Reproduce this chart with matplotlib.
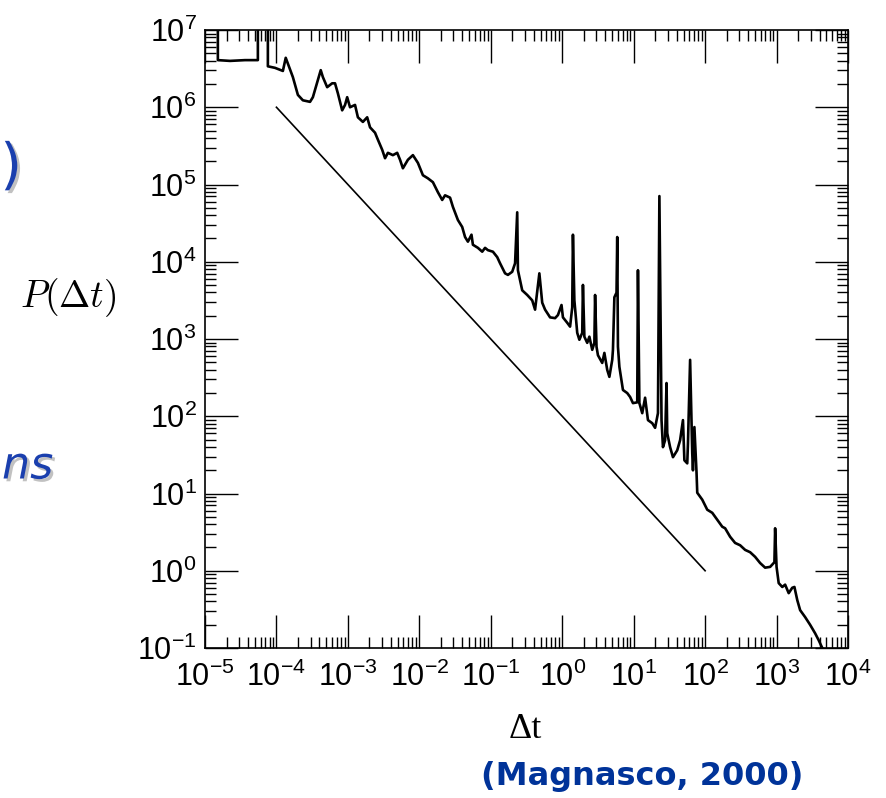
import numpy as np
import matplotlib
matplotlib.use('Agg')
import matplotlib.pyplot as plt
from matplotlib.ticker import LogLocator, FuncFormatter, NullFormatter
import matplotlib.patheffects as pe

# traced curve, log10 values
log_dt = [-4.82, -4.82, -4.65, -4.44, -4.26, -4.26, -4.12, -4.12, -4.02, -3.91,
          -3.87, -3.77, -3.70, -3.63, -3.53, -3.49, -3.42, -3.38, -3.35, -3.29,
          -3.22, -3.18, -3.14, -3.08, -3.04, -3.01, -2.97, -2.90, -2.86, -2.79,
          -2.73, -2.69, -2.62, -2.58, -2.52, -2.48, -2.44, -2.37, -2.31, -2.27,
          -2.23, -2.16, -2.09, -2.02, -1.95, -1.88, -1.81, -1.74, -1.68, -1.64,
          -1.57, -1.53, -1.46, -1.40, -1.36, -1.32, -1.27, -1.25, -1.18, -1.12,
          -1.08, -1.04, -0.97, -0.91, -0.87, -0.80, -0.76, -0.70, -0.66, -0.63,
          -0.62, -0.56, -0.49, -0.42, -0.38, -0.32, -0.28, -0.24, -0.17, -0.10,
          -0.06, -0.01, 0.01, 0.07, 0.11, 0.14, 0.15, 0.17, 0.21, 0.24,
          0.28, 0.29, 0.31, 0.35, 0.38, 0.42, 0.45, 0.46, 0.48, 0.50,
          0.56, 0.59, 0.63, 0.66, 0.70, 0.71, 0.73, 0.76, 0.77, 0.78,
          0.80, 0.85, 0.91, 0.95, 0.99, 1.05, 1.06, 1.08, 1.12, 1.16,
          1.20, 1.26, 1.30, 1.34, 1.36, 1.39, 1.41, 1.44, 1.46, 1.47,
          1.51, 1.55, 1.61, 1.65, 1.69, 1.71, 1.75, 1.76, 1.79, 1.82,
          1.83, 1.85, 1.88, 1.89, 1.96, 2.03, 2.10, 2.17, 2.24, 2.28,
          2.35, 2.42, 2.49, 2.56, 2.63, 2.70, 2.77, 2.84, 2.91, 2.97,
          2.98, 3.00, 3.03, 3.08, 3.12, 3.17, 3.22, 3.25, 3.29, 3.33,
          3.40, 3.47, 3.54, 3.59, 3.64, 3.70]
log_p = [7.20, 6.61, 6.60, 6.61, 6.61, 7.20, 7.20, 6.53, 6.51, 6.47,
         6.64, 6.39, 6.16, 6.09, 6.07, 6.13, 6.35, 6.48, 6.39, 6.26,
         6.31, 6.31, 6.18, 5.96, 6.03, 6.13, 6.00, 6.03, 5.87, 5.81,
         5.87, 5.74, 5.67, 5.58, 5.45, 5.34, 5.41, 5.38, 5.41, 5.32,
         5.21, 5.32, 5.38, 5.28, 5.12, 5.08, 5.03, 4.90, 4.80, 4.86,
         4.83, 4.71, 4.54, 4.45, 4.32, 4.26, 4.35, 4.22, 4.18, 4.13,
         4.18, 4.15, 4.13, 4.06, 3.98, 3.85, 3.83, 3.87, 3.98, 4.64,
         3.89, 3.63, 3.57, 3.50, 3.38, 3.85, 3.47, 3.38, 3.28, 3.27,
         3.31, 3.44, 3.28, 3.21, 3.16, 3.41, 4.35, 3.50, 3.08, 2.99,
         3.08, 3.70, 3.03, 2.95, 3.03, 2.86, 2.95, 3.57, 2.90, 2.79,
         2.69, 2.82, 2.60, 2.51, 2.73, 2.86, 3.54, 3.60, 4.32, 2.90,
         2.64, 2.34, 2.30, 2.25, 2.17, 2.18, 3.89, 2.17, 2.04, 2.24,
         1.95, 1.91, 1.85, 2.04, 4.85, 1.95, 1.60, 1.69, 2.43, 1.78,
         1.60, 1.47, 1.56, 1.69, 1.95, 1.43, 1.39, 1.65, 2.73, 1.52,
         1.30, 1.86, 1.27, 1.01, 0.92, 0.79, 0.75, 0.66, 0.57, 0.55,
         0.44, 0.36, 0.33, 0.27, 0.24, 0.18, 0.10, 0.04, 0.05, 0.11,
         0.55, 0.05, -0.16, -0.21, -0.18, -0.29, -0.22, -0.21, -0.38, -0.51,
         -0.60, -0.70, -0.81, -0.90, -1.00, -1.15]

# reference power law, slope -1
ref_dt = [1e-4, 1e2]
ref_p = [1e6, 1e0]

dt = 10 ** np.array(log_dt)
p = 10 ** np.array(log_p)

plt.rcParams['font.family'] = ['Liberation Sans', 'DejaVu Sans']

fig = plt.figure(figsize=(8.86, 7.98), dpi=100)
ax = fig.add_axes([205 / 886, 1 - 648 / 798, 643 / 886, 618 / 798])

ax.plot(dt, p, color='black', lw=1.9, solid_joinstyle='round')
ax.plot(ref_dt, ref_p, color='black', lw=1.2)

ax.set_xscale('log')
ax.set_yscale('log')
ax.set_xlim(1e-5, 1e4)
ax.set_ylim(1e-1, 1e7)

ax.xaxis.set_major_locator(LogLocator(base=10, numticks=20))
ax.yaxis.set_major_locator(LogLocator(base=10, numticks=20))
ax.xaxis.set_minor_locator(LogLocator(base=10, subs=np.arange(2, 10), numticks=20))
ax.yaxis.set_minor_locator(LogLocator(base=10, subs=np.arange(2, 10), numticks=20))
fmt = FuncFormatter(lambda v, pos: r'$\mathregular{10^{%d}}$' % round(np.log10(v)))
ax.xaxis.set_major_formatter(fmt)
ax.yaxis.set_major_formatter(fmt)
ax.xaxis.set_minor_formatter(NullFormatter())
ax.yaxis.set_minor_formatter(NullFormatter())

ax.tick_params(which='both', direction='in', top=True, right=True, width=1.0)
ax.tick_params(which='major', length=24, labelsize=22)
ax.tick_params(which='minor', length=8)
ax.tick_params(axis='x', which='major', pad=10)
ax.tick_params(axis='y', which='major', pad=6)
for s in ax.spines.values():
    s.set_linewidth(1.2)

fig.text(20 / 886, 1 - 298 / 798, r'$P(\Delta t)$', fontsize=27,
         math_fontfamily='cm', ha='left', va='center')
fig.text(525 / 886, 1 - 730 / 798, 'Δt', fontsize=26,
         family='Liberation Serif', ha='center', va='center')

fig.text(642 / 886, 1 - 776 / 798, '(Magnasco, 2000)', fontsize=23,
         family='DejaVu Sans', weight='bold', color='#003399',
         ha='center', va='center')

shadow = [pe.SimplePatchShadow(offset=(2, -2), shadow_rgbFace='#999999', alpha=0.6), pe.Normal()]
t1 = fig.text(22 / 886, 1 - 168 / 798, ')', fontsize=40, color='#1a3fae',
              ha='right', va='center', family='DejaVu Sans')
t1.set_path_effects(shadow)
t2 = fig.text(2 / 886, 1 - 466 / 798, 'ns', fontsize=32, color='#1a3fae',
              ha='left', va='center', family='DejaVu Sans', style='italic')
t2.set_path_effects(shadow)

fig.savefig('out.png', dpi=100)
